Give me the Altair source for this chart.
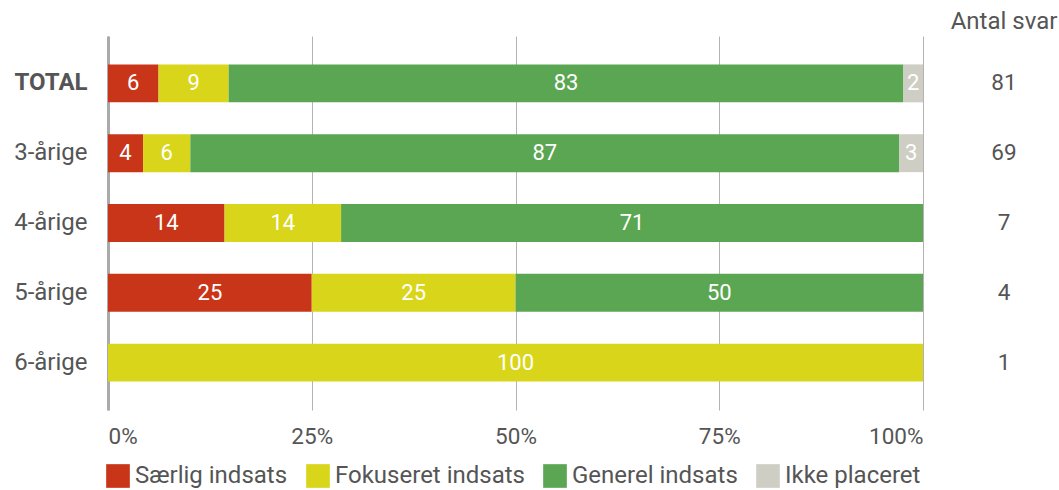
import altair as alt
import pandas as pd

groups = ["TOTAL", "3-årige", "4-årige", "5-årige", "6-årige"]
categories = ["Særlig indsats", "Fokuseret indsats", "Generel indsats", "Ikke placeret"]
colors = ["#C93519", "#D9D51A", "#5BA652", "#CFCEC4"]
saerlig = [6.2, 4.3, 14.3, 25.0, 0]
fokus = [8.6, 5.8, 14.3, 25.0, 100.0]
generel = [82.8, 87.0, 71.4, 50.0, 0]
ikke = [2.4, 2.9, 0, 0, 0]
antal = [81, 69, 7, 4, 1]
ticks = [0, 25, 50, 75, 100]

rows = []
for i, g in enumerate(groups):
    for j, (c, vals) in enumerate(zip(categories, [saerlig, fokus, generel, ikke])):
        if vals[i] > 0:
            rows.append({"group": g, "cat": c, "order": j, "value": vals[i]})
df = pd.DataFrame(rows)
df_n = pd.DataFrame({"group": groups, "antal": antal})
df_h = pd.DataFrame({"t": ["Antal svar"]})

ysc = alt.Scale(domain=groups, paddingInner=0.457, paddingOuter=0.407)
xsc = alt.Scale(domain=[0, 100], nice=False)

base = alt.Chart(df).transform_stack(
    stack="value", groupby=["group"], as_=["x0", "x1"], sort=[alt.SortField("order")]
).transform_calculate(mid="(datum.x0 + datum.x1) / 2")

bars = base.mark_bar().encode(
    x=alt.X("x0:Q", scale=xsc, title=None,
            axis=alt.Axis(values=ticks, labelExpr="datum.value + '%'", grid=True,
                          gridColor="#b3b3b3", gridWidth=1, domain=False, ticks=False,
                          labelFlush=True, labelPadding=15, labelFontSize=22.5,
                          labelColor="#555555")),
    x2="x1:Q",
    y=alt.Y("group:N", scale=ysc, sort=groups, title=None,
            axis=alt.Axis(domain=True, domainColor="#aaaaaa", domainWidth=3, ticks=False,
                          labelPadding=21, labelFontSize=24, labelColor="#555555",
                          labelFontWeight=alt.condition("datum.value == 'TOTAL'",
                                                        alt.value("bold"), alt.value("normal")))),
    color=alt.Color("cat:N", scale=alt.Scale(domain=categories, range=colors),
                    legend=alt.Legend(title=None, orient="none", direction="horizontal",
                                      legendX=-2, legendY=428, symbolType="square",
                                      symbolSize=560, symbolStrokeWidth=0, symbolOpacity=1,
                                      labelFontSize=24, labelColor="#555555", labelLimit=400,
                                      labelOffset=5, columnPadding=18)),
)

labels = base.mark_text(color="white", fontSize=22).encode(
    x=alt.X("mid:Q", scale=xsc),
    y=alt.Y("group:N", scale=ysc, sort=groups),
    text=alt.Text("value:Q", format=".0f"),
)

nums = alt.Chart(df_n).mark_text(color="#555555", fontSize=22.5).encode(
    x=alt.value(896),
    y=alt.Y("group:N", scale=ysc, sort=groups),
    text="antal:Q",
)

header = alt.Chart(df_h).mark_text(color="#555555", fontSize=24).encode(
    x=alt.value(896), y=alt.value(-14), text="t:N"
)

chart = alt.layer(bars, labels, nums, header).properties(
    width=815, height=374,
    autosize=alt.AutoSizeParams(type="none"),
    padding={"left": 108, "top": 36, "right": 136, "bottom": 80},
).configure(font="Roboto").configure_view(stroke=None)

chart.save("out.html", embed_options={"renderer": "svg", "actions": False})
